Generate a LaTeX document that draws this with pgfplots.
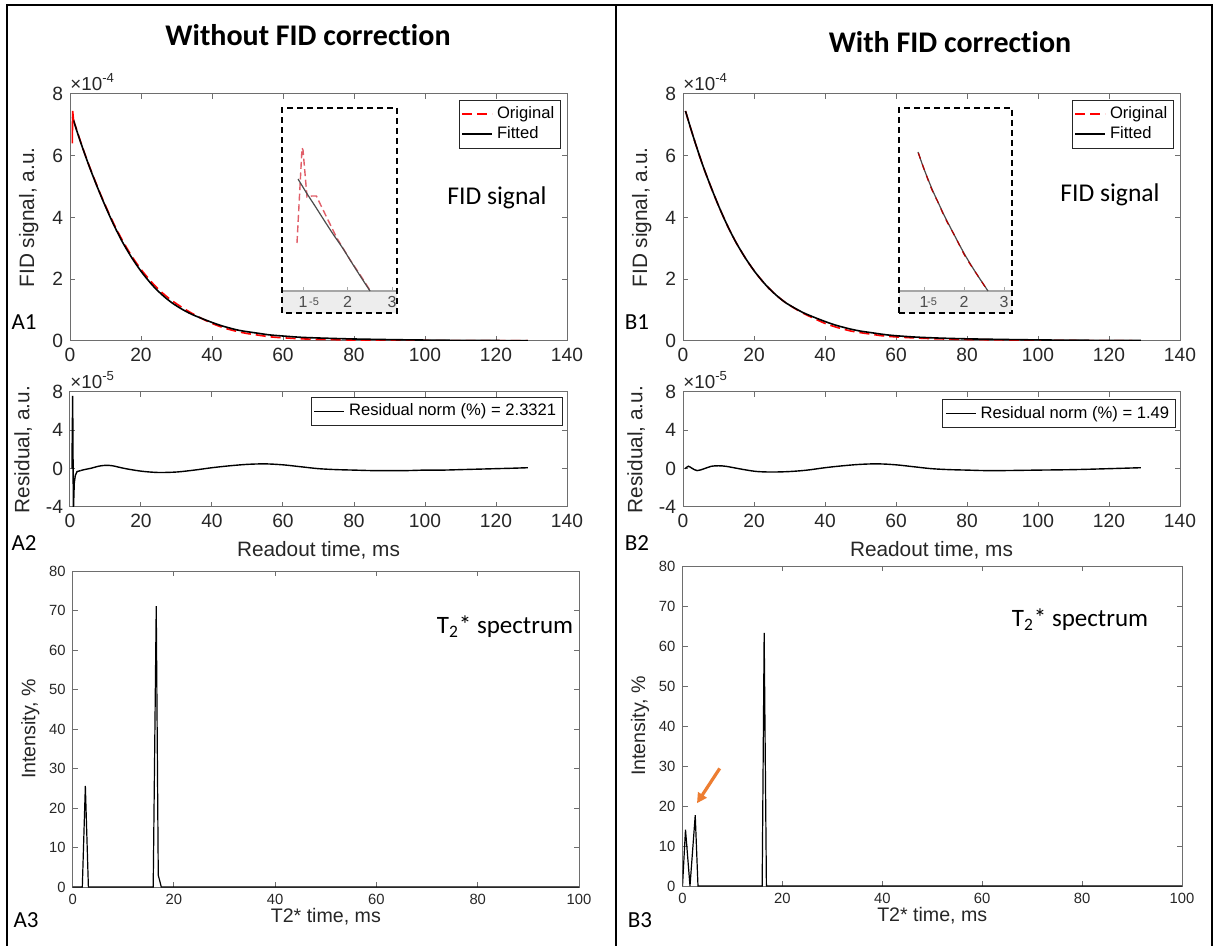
\documentclass[border=0pt]{standalone}
\usepackage{pgfplots}
\pgfplotsset{compat=1.18}
\usepackage{fontspec}
\setmainfont{Liberation Sans}
\newfontfamily\calib[Ligatures=NoCommon]{Carlito}
\usetikzlibrary{arrows.meta}
\definecolor{axgray}{RGB}{110,110,110}
\definecolor{txgray}{RGB}{38,38,38}
\definecolor{insred}{RGB}{225,95,105}
\definecolor{arrorange}{RGB}{237,125,49}
\pgfplotsset{
  mstyle/.style={scale only axis, anchor=south west, clip mode=individual, axis background/.style={fill=white},
    axis line style={axgray, line width=0.5pt}, tick style={axgray, line width=0.5pt},
    tick align=inside, major tick length=2.5pt,
    ticklabel style={font=\fontsize{9.6}{10}\selectfont, text=txgray},
    label style={font=\fontsize{10.4}{12}\selectfont, text=txgray},
    legend cell align=left,
    legend image code/.code={\draw[#1] (0pt,0pt) -- (15pt,0pt);},
    legend style={font=\fontsize{8.3}{9}\selectfont, draw=txgray, line width=0.4pt, inner sep=1.2pt, row sep=-1.5pt}},
  sstyle/.style={scale only axis, anchor=south west, clip mode=individual, axis background/.style={fill=white},
    axis line style={axgray, line width=0.5pt}, tick style={axgray, line width=0.5pt},
    tick align=inside, major tick length=2.5pt,
    xmin=0, xmax=100, ymin=0, ymax=80,
    xtick={0,20,40,60,80,100}, xticklabels={0,20,40,60,80,100},
    ytick={0,10,20,30,40,50,60,70,80}, yticklabels={0,10,20,30,40,50,60,70,80},
    ticklabel style={font=\fontsize{7.4}{8}\selectfont, text=txgray},
    label style={font=\fontsize{9.8}{11}\selectfont, text=txgray},
    xlabel style={yshift=5pt}, ylabel style={yshift=-2pt},
    xlabel={T2* time, ms}, ylabel={Intensity, \%}},
  fidx/.style={xmin=0, xmax=140, xtick={0,20,40,60,80,100,120,140}, xticklabels={0,20,40,60,80,100,120,140}},
  inset/.style={scale only axis, anchor=south west, hide axis, clip=false, ymin=-22, ymax=183}
}
\begin{document}
\begin{tikzpicture}
\useasboundingbox (0pt,0pt) rectangle (608.5pt,-473pt);
% frame
\draw[line width=1pt] (3.5pt,-473pt) -- (3.5pt,-2.5pt) -- (606pt,-2.5pt) -- (606pt,-473pt);
\draw[line width=1pt] (308pt,-2.5pt) -- (308pt,-473pt);

% ---------------- A1 ----------------
\begin{axis}[mstyle, fidx, at={(35pt,-170.5pt)}, width=248.5pt, height=123.5pt,
  ymin=0, ymax=8, ytick={0,2,4,6,8}, yticklabels={0,2,4,6,8},
  ylabel={FID signal, a.u.},
  legend style={at={(0.988,0.976)}, anchor=north east}]
\addplot[red, line width=0.8pt, dash pattern=on 5pt off 2.5pt, smooth, tension=0.5] coordinates {
(1.0,7.15)(2,6.8)(3.5,6.28)(5.6,5.62)(8,4.92)(10.2,4.33)(12.5,3.76)(14.9,3.23)(17.5,2.73)(20,2.32)(22,2.04)(24,1.78)(26.4,1.52)(28.8,1.3)(31.4,1.1)(34,0.92)(36.9,0.74)(39.8,0.58)(42,0.48)(44,0.4)(47.4,0.3)(50,0.24)(53,0.19)(56,0.14)(59,0.11)(62,0.09)(65,0.07)(72,0.05)(80,0.03)(90,0.02)(100,0.015)(110,0.01)(120,0.01)(129,0.01)};
\addlegendentry{Original}
\addplot[black, line width=0.8pt, smooth, tension=0.5] coordinates {
(0.7,7.25)(2,6.78)(3.5,6.27)(5.6,5.6)(8,4.9)(10.2,4.3)(12.5,3.72)(14.9,3.18)(17.5,2.68)(20,2.26)(22,1.97)(24,1.71)(26.4,1.45)(28.8,1.23)(31.4,1.04)(34,0.88)(36.9,0.74)(39.8,0.61)(42,0.52)(44,0.45)(47.4,0.35)(50,0.3)(53,0.25)(56,0.2)(59,0.17)(65,0.12)(72,0.09)(80,0.065)(90,0.045)(100,0.03)(110,0.02)(120,0.015)(129,0.01)};
\addlegendentry{Fitted}
\addplot[red, line width=0.8pt, forget plot] coordinates {(0.65,6.4)(0.75,7.45)(1.0,7.15)};
\node[anchor=south west, inner sep=0pt, yshift=1.5pt, font=\fontsize{9.4}{10}\selectfont, text=txgray] at (rel axis cs:0,1) {×10\textsuperscript{-4}};
\end{axis}

% inset A
\begin{axis}[inset, at={(141pt,-156.5pt)}, width=57.5pt, height=102.5pt, xmin=0.528, xmax=3.112]
\fill[white] (axis cs:0.528,0) rectangle (axis cs:3.112,183);
\fill[black!7] (axis cs:0.528,-22) rectangle (axis cs:3.112,0);
\draw[black!35, line width=0.6pt] (axis cs:0.528,0) -- (axis cs:3.112,0);
\draw[black!35, line width=0.4pt] (axis cs:1,0) -- (axis cs:1,4);
\draw[black!35, line width=0.4pt] (axis cs:2,0) -- (axis cs:2,4);
\draw[black!35, line width=0.4pt] (axis cs:3,0) -- (axis cs:3,4);
\node[font=\fontsize{8}{9}\selectfont, text=black!70] at (axis cs:1,-11) {1};
\node[font=\fontsize{5.5}{6}\selectfont, text=black!70] at (axis cs:1.25,-11) {-5};
\node[font=\fontsize{8}{9}\selectfont, text=black!70] at (axis cs:2,-11) {2};
\node[font=\fontsize{8}{9}\selectfont, text=black!70] at (axis cs:3,-11) {3};
\addplot[insred, line width=0.7pt, dash pattern=on 3.5pt off 1.8pt] coordinates {
(0.865,48)(0.978,143)(1.0,141)(1.09,94)(1.2,95)(1.3,95)(1.43,83)(1.76,53)(2.06,31)(2.3,15)(2.5,1)};
\addplot[black!70, line width=0.6pt, smooth] coordinates {
(0.888,112)(1.08,98)(1.27,85)(1.47,71)(1.674,57)(1.89,43)(2.10,28)(2.3,14)(2.506,0)};
\draw[black, line width=0.75pt, dash pattern=on 3pt off 2pt] (rel axis cs:0,0) rectangle (rel axis cs:1,1);
\end{axis}

% ---------------- A2 ----------------
\begin{axis}[mstyle, fidx, at={(35pt,-253.5pt)}, width=248.5pt, height=57.5pt,
  ymin=-4, ymax=8, ytick={-4,0,4,8}, yticklabels={-4,0,4,8},
  xlabel={Readout time, ms}, ylabel={Residual, a.u.},
  legend style={at={(0.992,0.957)}, anchor=north east}]
\addplot[black, line width=0.7pt] coordinates {
(0.55,0)(0.75,7.6)(0.95,-4.5)(1.2,-1.5)(1.5,-0.7)(2,-0.3)(3,-0.2)};
\addlegendentry{Residual norm (\%) = 2.3321}
\addplot[black, line width=0.7pt, smooth, forget plot] coordinates {
(3,-0.2)(4,-0.1)(6,0.05)(8,0.25)(10,0.35)(12,0.3)(15,0.05)(18,-0.15)(21,-0.3)(25,-0.4)(30,-0.35)(35,-0.15)(40,0.1)(45,0.3)(50,0.45)(55,0.5)(60,0.4)(65,0.2)(70,0.0)(75,-0.1)(80,-0.15)(85,-0.2)(90,-0.2)(95,-0.2)(100,-0.15)(105,-0.15)(110,-0.1)(115,-0.05)(120,0)(125,0.05)(129,0.1)};
\node[anchor=south west, inner sep=0pt, yshift=1.5pt, font=\fontsize{9.4}{10}\selectfont, text=txgray] at (rel axis cs:0,1) {×10\textsuperscript{-5}};
\end{axis}

% ---------------- A3 ----------------
\begin{axis}[sstyle, at={(36.35pt,-443.5pt)}, width=253.15pt, height=158pt]
\addplot[black, line width=0.6pt] coordinates {
(0,0)(1.9,0)(2.5,25.6)(3.1,0)(15.9,0)(16.5,71.1)(16.9,3)(17.5,0)(100,0)};
\end{axis}

% ---------------- B1 ----------------
\begin{axis}[mstyle, fidx, at={(341.5pt,-170.5pt)}, width=248.5pt, height=123.5pt,
  ymin=0, ymax=8, ytick={0,2,4,6,8}, yticklabels={0,2,4,6,8},
  ylabel={FID signal, a.u.},
  legend style={at={(0.988,0.976)}, anchor=north east}]
\addplot[red, line width=0.8pt, dash pattern=on 5pt off 2.5pt, smooth, tension=0.5] coordinates {
(0.7,7.45)(2,6.95)(3.5,6.4)(5.6,5.68)(8,4.95)(10.2,4.33)(12.5,3.74)(14.9,3.2)(17.5,2.7)(20,2.28)(22,1.99)(24,1.73)(26.4,1.47)(28.8,1.25)(31.4,1.06)(34,0.89)(36.9,0.73)(39.8,0.58)(42,0.49)(44,0.42)(47.4,0.32)(50,0.27)(53,0.22)(56,0.17)(59,0.14)(65,0.1)(72,0.07)(80,0.05)(90,0.035)(100,0.025)(110,0.015)(120,0.01)(129,0.005)};
\addlegendentry{Original}
\addplot[black, line width=0.8pt, smooth, tension=0.5] coordinates {
(0.7,7.45)(2,6.95)(3.5,6.4)(5.6,5.68)(8,4.95)(10.2,4.33)(12.5,3.74)(14.9,3.2)(17.5,2.7)(20,2.28)(22,1.99)(24,1.73)(26.4,1.47)(28.8,1.25)(31.4,1.07)(34,0.91)(36.9,0.77)(39.8,0.64)(42,0.55)(44,0.48)(47.4,0.38)(50,0.32)(53,0.27)(56,0.22)(59,0.18)(65,0.13)(72,0.095)(80,0.07)(90,0.05)(100,0.035)(110,0.025)(120,0.02)(129,0.015)};
\addlegendentry{Fitted}
\node[anchor=south west, inner sep=0pt, yshift=1.5pt, font=\fontsize{9.4}{10}\selectfont, text=txgray] at (rel axis cs:0,1) {×10\textsuperscript{-4}};
\end{axis}

% inset B
\begin{axis}[inset, at={(449.5pt,-156.5pt)}, width=56.5pt, height=102.5pt, xmin=0.375, xmax=3.2]
\fill[white] (axis cs:0.375,0) rectangle (axis cs:3.2,183);
\fill[black!7] (axis cs:0.375,-22) rectangle (axis cs:3.2,0);
\draw[black!35, line width=0.6pt] (axis cs:0.375,0) -- (axis cs:3.2,0);
\draw[black!35, line width=0.4pt] (axis cs:1,0) -- (axis cs:1,4);
\draw[black!35, line width=0.4pt] (axis cs:2,0) -- (axis cs:2,4);
\draw[black!35, line width=0.4pt] (axis cs:3,0) -- (axis cs:3,4);
\node[font=\fontsize{8}{9}\selectfont, text=black!70] at (axis cs:1,-11) {1};
\node[font=\fontsize{5.5}{6}\selectfont, text=black!70] at (axis cs:1.2,-11) {-5};
\node[font=\fontsize{8}{9}\selectfont, text=black!70] at (axis cs:2,-11) {2};
\node[font=\fontsize{8}{9}\selectfont, text=black!70] at (axis cs:3,-11) {3};
\addplot[black!70, line width=0.6pt, smooth] coordinates {
(0.85,139)(1.0,122)(1.2,102)(1.36,88)(1.525,74)(1.77,55)(2.025,36)(2.3,18)(2.6,0)};
\addplot[red!70!black, line width=0.6pt, dash pattern=on 3pt off 3pt, smooth] coordinates {
(0.86,138)(1.0,122)(1.2,101)(1.36,88)(1.525,73)(1.77,55)(2.025,35)(2.3,18)(2.58,1)};
\draw[black, line width=0.75pt, dash pattern=on 3pt off 2pt] (rel axis cs:0,0) rectangle (rel axis cs:1,1);
\end{axis}

% ---------------- B2 ----------------
\begin{axis}[mstyle, fidx, at={(341.5pt,-253.5pt)}, width=248.5pt, height=57.5pt,
  ymin=-4, ymax=8, ytick={-4,0,4,8}, yticklabels={-4,0,4,8},
  xlabel={Readout time, ms}, ylabel={Residual, a.u.},
  legend style={at={(0.992,0.935)}, anchor=north east}]
\addplot[black, line width=0.7pt, smooth, tension=0.6] coordinates {
(0.6,0)(1.5,0.25)(2.5,0.05)(4,-0.2)(6,0)(8,0.25)(10,0.3)(12,0.25)(15,0.05)(18,-0.15)(21,-0.3)(25,-0.35)(30,-0.3)(35,-0.15)(40,0.1)(45,0.3)(50,0.45)(55,0.5)(60,0.4)(65,0.2)(70,0)(75,-0.1)(80,-0.15)(85,-0.2)(90,-0.2)(100,-0.15)(110,-0.1)(120,0)(129,0.1)};
\addlegendentry{Residual norm (\%) = 1.49}
\node[anchor=south west, inner sep=0pt, yshift=1.5pt, font=\fontsize{9.4}{10}\selectfont, text=txgray] at (rel axis cs:0,1) {×10\textsuperscript{-5}};
\end{axis}

% ---------------- B3 ----------------
\begin{axis}[sstyle, at={(341.25pt,-443pt)}, width=249.75pt, height=160pt]
\addplot[black, line width=0.6pt] coordinates {
(0,0)(0.6,14.1)(1.5,0)(2.55,17.7)(3.1,0)(15.95,0)(16.35,63.3)(16.8,0)(100,0)};
\draw[-{Triangle[length=5pt,width=5pt]}, arrorange, line width=1.6pt] (axis cs:7.45,29.4) -- (axis cs:2.9,20.7);
\end{axis}

% ---------------- texts ----------------
\node[font=\calib\bfseries\fontsize{15}{17}\selectfont] at (154pt,-17.5pt) {Without FID correction};
\node[font=\calib\bfseries\fontsize{15}{17}\selectfont] at (475pt,-21pt) {With FID correction};
\node[font=\calib\fontsize{12.8}{14}\selectfont] at (248.5pt,-99pt) {FID signal};
\node[font=\calib\fontsize{12.8}{14}\selectfont] at (555pt,-97.5pt) {FID signal};
\node[font=\calib\fontsize{12.5}{14}\selectfont] at (252.5pt,-313.5pt) {T\textsubscript{2}* spectrum};
\node[font=\calib\fontsize{12.5}{14}\selectfont] at (540pt,-310pt) {T\textsubscript{2}* spectrum};
\node[font=\calib\fontsize{11.5}{13}\selectfont] at (12pt,-161pt) {A1};
\node[font=\calib\fontsize{11.5}{13}\selectfont] at (12pt,-271.5pt) {A2};
\node[font=\calib\fontsize{11.5}{13}\selectfont] at (13pt,-460pt) {A3};
\node[font=\calib\fontsize{11.5}{13}\selectfont] at (318.5pt,-161pt) {B1};
\node[font=\calib\fontsize{11.5}{13}\selectfont] at (318.5pt,-271.5pt) {B2};
\node[font=\calib\fontsize{11.5}{13}\selectfont] at (320pt,-460pt) {B3};
\end{tikzpicture}
\end{document}
